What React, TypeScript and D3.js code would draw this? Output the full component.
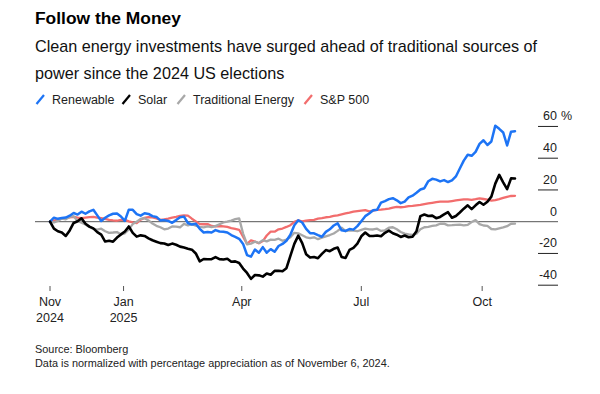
import * as d3 from "d3";

// sampled every 3 days from Nov 6, 2024 (percent change since Nov 6, 2024)
const dates = d3.timeDay.range(new Date(2024, 10, 6), new Date(2025, 9, 27), 3);

const renewable = [
  0, 2.5, 1.8, 2.3, 2.6, 3.8, 5.5, 4.5, 6.3, 5.0, 6.5, 7.5, 4.0, 0.5, 2.5, 4.0, 5.0, 5.2, 3.3, 0.5,
  7.6, 7.5, 4.8, 3.8, 5.3, 4.9, 3.5, 3.0, 0.8, 1.0, 0.5, -0.7, 1.0, 2.8, 3.2, -0.8, -1.8, -1.3, -4.5, -6.8,
  -6.5, -6.8, -5.3, -6.2, -6.3, -6.8, -8.4, -9.5, -10.8, -14, -21, -22, -17.5, -19.5, -16, -19.5, -17.3, -18.9, -15.3, -14,
  -12, -8.2, -2.2, 0.9, -0.5, -4.5, -7.2, -7.3, -8.5, -9.5, -6.4, -4.8, -2.4, -1, -5.4, -5.8, -4.6, -5, -2.8, 0.3,
  3.5, 5.2, 7.2, 7.5, 12, 13, 14.2, 14.8, 13.5, 11.7, 12.7, 15.3, 16.4, 18.2, 20.3, 21.1, 25.5, 27, 26.5, 25.4,
  26.2, 25, 26, 28.5, 33.5, 38.5, 42.2, 41.5, 44, 49, 51.3, 48.3, 50.5, 60.5, 58.5, 56.2, 48, 56.7, 57,
];

const solar = [
  0, -4.4, -6, -6.8, -9, -5.5, -0.8, 0.3, 2.1, -1.3, -3.1, -4.2, -6.6, -8.2, -12.5, -12, -12.6, -10, -8, -6.2,
  -3, -7, -9.4, -8.6, -9, -10.5, -11.7, -12.6, -13.5, -13.7, -14.7, -13.8, -14.5, -15.7, -16.3, -17, -17.6, -20, -25, -23.5,
  -23.7, -23.6, -22.3, -23.6, -23.8, -23.3, -25.2, -25, -26, -29.5, -32.3, -36, -33.6, -33.8, -34.6, -32.6, -33.4, -31, -30.9, -31.2,
  -29.3, -21.5, -14, -8.8, -13.5, -20.5, -22.6, -22.2, -23, -20.3, -17.9, -18.6, -17.1, -16.3, -22.2, -22.8, -17.8, -16.5, -13.8, -9.2,
  -6.8, -8.9, -9, -8.7, -9.2, -7, -5.6, -7.3, -8.2, -9.6, -8.7, -9.8, -9.5, -6, 3.5, 4.5, 3.6, 3.8, 2.2, 3,
  4.6, 6, 2.5, 3.6, 5.8, 8.2, 10.3, 7.9, 10.3, 12.4, 10.7, 12.6, 15.8, 24, 29.5, 24.8, 20.5, 27.3, 27.2,
];

const traditional = [
  0, -0.5, 0.5, 2.0, 1.5, 3.0, 3.5, 0.5, -0.6, -1.8, -3.3, -4.5, -5.0, -4.4, -6.0, -7.0, -6.8, -6.5, -8.0, -7.3,
  -4.8, -1.5, 0, 1.8, 2.2, 0.8, -1.2, -2.6, -3.5, -4.8, -4.3, -3.0, -3.1, -3.5, -1.4, -2.3, -1.5, -2.5, -3.2, -3.6,
  -3.0, -3.4, -2.8, -1.6, -0.5, 0, 0.7, 1.6, 2.1, -7.5, -14.2, -13.8, -12.6, -13.4, -11.6, -12.4, -11.3, -11.5, -10.7, -12.0,
  -11.2, -9.8, -7.0, -7.3, -8.5, -9.8, -10.4, -9.8, -11, -10, -9.2, -8.4, -7.4, -5.8, -3.8, -6.0, -5.5, -5.6, -6.0, -5.2,
  -4.4, -4.8, -4.9, -4.4, -5.8, -5.4, -3.8, -3.5, -4.8, -6.5, -7.5, -8.0, -8.3, -7.5, -4.8, -3.5, -3.2, -2.7, -2.3, -1.3,
  -1.2, -2.3, -2.2, -2.0, -1.9, -2.3, -2.0, -0.2, 1.0, -1.5, -2.4, -2.6, -4.6, -4.8, -4.2, -3.6, -2.8, -1.3, -1.2,
];

const sp500 = [
  0, 0.7, 1.4, 1.9, 2.3, 2.7, 3.1, 2.6, 2.2, 2.6, 2.9, 3.1, 2.6, 2.2, 1.8, 1.1, 0.8, 0.6, 1.2, 1.2,
  0.2, -0.4, -0.9, 1.3, 2.4, 2.9, 2.7, 2.1, 1.2, 1.4, 1.9, 2.5, 3.0, 3.6, 4.0, 3.8, 1.9, 0.2, -1.5, -1.6,
  -1.5, -2.7, -3.0, -2.7, -2.9, -3.3, -4.0, -4.5, -5.1, -9.5, -14, -11.8, -12.5, -13.6, -12.2, -8.7, -6.3, -6.3, -4.8, -4.3,
  -3.3, -2.2, -0.1, 0.8, 0.2, 0.7, 1.0, 1.2, 1.9, 2.3, 2.8, 3.1, 3.6, 4.0, 4.6, 5.2, 5.7, 6.3, 6.7, 7.0,
  7.3, 6.5, 6.9, 7.4, 7.6, 7.9, 8.3, 8.9, 9.3, 9.1, 9.3, 9.8, 10.0, 10.3, 10.6, 11.1, 11.5, 11.9, 12.3, 12.6,
  12.6, 12.6, 13.0, 13.4, 13.7, 14.0, 14.1, 13.8, 14.2, 14.7, 14.3, 13.9, 13.3, 13.6, 14.2, 15.0, 15.7, 16.2, 16.3,
];

const legendNames = ["Renewable", "Solar", "Traditional Energy", "S&P 500"];
const legendColors = ["#1d74f5", "#000000", "#a8a8a8", "#f26d6d"];

const yTicks = [60, 40, 20, 0, -20, -40];
const xTickDates = [
  new Date(2024, 10, 6),
  new Date(2025, 0, 1),
  new Date(2025, 3, 1),
  new Date(2025, 6, 1),
  new Date(2025, 9, 1),
];
const xTickLabels = [["Nov", "2024"], ["Jan", "2025"], ["Apr"], ["Jul"], ["Oct"]];

const font = "'Liberation Sans', Arial, sans-serif";

export default function App() {
  const width = 600;
  const height = 394;

  const x = d3
    .scaleTime()
    .domain([dates[0], dates[dates.length - 1]])
    .range([50, 515]);
  const y = d3.scaleLinear().domain([-40, 60]).range([285.2, 126.45]);

  const line = d3
    .line<number>()
    .x((_, i) => x(dates[i]))
    .y((d) => y(d));

  // drawing order: S&P at the back, solar on top
  const layers = [
    { values: sp500, color: legendColors[3], w: 2.3 },
    { values: traditional, color: legendColors[2], w: 2.3 },
    { values: renewable, color: legendColors[0], w: 2.5 },
    { values: solar, color: legendColors[1], w: 2.6 },
  ];

  const legendX = [35, 121, 176, 303];

  return (
    <svg
      width={width}
      height={height}
      style={{ position: "absolute", left: 0, top: 0, background: "#fff" }}
      fontFamily={font}
    >
      <rect width={width} height={height} fill="#fff" />
      <text x={35} y={24} fontSize={17.4} fontWeight="bold" fill="#000">
        Follow the Money
      </text>
      <text x={35} y={52} fontSize={16.2} fill="#111">
        Clean energy investments have surged ahead of traditional sources of
      </text>
      <text x={35} y={79} fontSize={16.2} fill="#111">
        power since the 2024 US elections
      </text>

      {legendNames.map((name, i) => (
        <g key={name} transform={`translate(${legendX[i]},100)`}>
          <line x1={1.5} y1={4} x2={9} y2={-5} stroke={legendColors[i]} strokeWidth={2.2} />
          <text x={17} y={4} fontSize={12.5} fill="#222">
            {name}
          </text>
        </g>
      ))}

      {/* right axis */}
      {yTicks.map((t) => (
        <g key={t}>
          {t !== 0 && (
            <line x1={538} x2={558} y1={y(t)} y2={y(t)} stroke="#222" strokeWidth={1} />
          )}
          <text x={557} y={y(t) - 6} fontSize={12.5} textAnchor="end" fill="#222">
            {t}
          </text>
          {t === 60 && (
            <text x={561} y={y(t) - 6} fontSize={12.5} fill="#222">
              %
            </text>
          )}
        </g>
      ))}
      <line x1={35} x2={558} y1={y(0)} y2={y(0)} stroke="#555" strokeWidth={1} />

      {layers.map((l, i) => (
        <path
          key={i}
          d={line(l.values) || ""}
          fill="none"
          stroke={l.color}
          strokeWidth={l.w}
          strokeLinejoin="round"
          strokeLinecap="round"
        />
      ))}

      {/* bottom axis */}
      {xTickDates.map((d, i) => (
        <g key={i} transform={`translate(${x(d)},0)`}>
          <line y1={286} y2={291} stroke="#555" strokeWidth={1} />
          {xTickLabels[i].map((s, j) => (
            <text key={j} y={306 + j * 16} fontSize={12.5} textAnchor="middle" fill="#222">
              {s}
            </text>
          ))}
        </g>
      ))}

      <text x={35} y={353} fontSize={10.9} fill="#222">
        Source: Bloomberg
      </text>
      <text x={35} y={367} fontSize={10.9} fill="#222">
        Data is normalized with percentage appreciation as of November 6, 2024.
      </text>
    </svg>
  );
}
